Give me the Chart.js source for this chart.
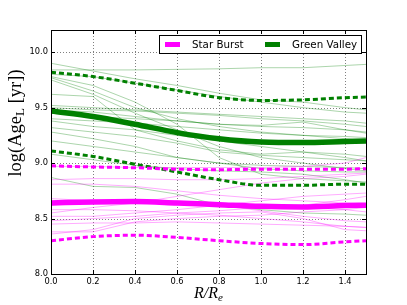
<!DOCTYPE html>
<html><head><meta charset="utf-8">
<script src="https://cdn.jsdelivr.net/npm/chart.js@4/dist/chart.umd.min.js"></script>
<style>html,body{margin:0;padding:0;background:#fff}#wrap{width:407px;height:305px;position:relative}</style>
</head><body><div id="wrap"><canvas id="c" width="407" height="305"></canvas></div>
<script>
// radius R/Re sample points
const radius = [0, 0.2, 0.4, 0.6, 0.8, 1.0, 1.2, 1.4, 1.5];
const xTicks = [0.0, 0.2, 0.4, 0.6, 0.8, 1.0, 1.2, 1.4];
const yTicks = [8.0, 8.5, 9.0, 9.5, 10.0];

// Green Valley: median and 16/84 percentiles
const gvMedian = [9.47, 9.42, 9.35, 9.275, 9.22, 9.19, 9.185, 9.195, 9.20];
const gvUpper  = [9.82, 9.78, 9.72, 9.655, 9.59, 9.565, 9.57, 9.59, 9.595];
const gvLower  = [9.11, 9.06, 8.99, 8.92, 8.85, 8.80, 8.80, 8.81, 8.81];
// Star Burst: median and percentiles
const sbMedian = [8.64, 8.65, 8.653, 8.64, 8.625, 8.61, 8.605, 8.617, 8.62];
const sbUpper  = [8.975, 8.965, 8.958, 8.945, 8.94, 8.945, 8.945, 8.945, 8.95];
const sbLower  = [8.30, 8.337, 8.35, 8.33, 8.30, 8.275, 8.265, 8.29, 8.30];

// individual Green Valley galaxies
const gv01 = [9.90, 9.83, 9.76, 9.70, 9.63, 9.57, 9.55, 9.50, 9.48];
const gv02 = [9.84, 9.84, 9.84, 9.845, 9.85, 9.86, 9.86, 9.88, 9.89];
const gv03 = [9.80, 9.78, 9.72, 9.66, 9.60, 9.55, 9.50, 9.46, 9.45];
const gv04 = [9.78, 9.70, 9.55, 9.35, 9.05, 8.90, 8.86, 8.84, 8.83];
const gv05 = [9.77, 9.65, 9.50, 9.40, 9.33, 9.28, 9.25, 9.22, 9.20];
const gv06 = [9.75, 9.62, 9.45, 9.30, 9.15, 9.05, 9.00, 8.95, 8.93];
const gv07 = [9.52, 9.50, 9.48, 9.46, 9.44, 9.42, 9.40, 9.38, 9.36];
const gv08 = [9.50, 9.48, 9.47, 9.45, 9.43, 9.40, 9.38, 9.35, 9.33];
const gv09 = [9.45, 9.42, 9.40, 9.38, 9.35, 9.33, 9.32, 9.30, 9.28];
const gv10 = [9.40, 9.38, 9.36, 9.33, 9.30, 9.27, 9.25, 9.24, 9.23];
const gv11 = [9.38, 9.33, 9.30, 9.25, 9.20, 9.15, 9.10, 9.05, 9.02];
const gv12 = [9.32, 9.28, 9.24, 9.18, 9.10, 9.07, 9.05, 9.03, 9.02];
const gv13 = [9.28, 9.22, 9.15, 9.05, 9.00, 8.98, 8.97, 8.96, 8.95];
const gv14 = [9.20, 9.15, 9.10, 9.05, 9.00, 8.95, 8.93, 8.92, 8.92];
const gv15 = [8.87, 8.79, 8.78, 8.72, 8.62, 8.58, 8.55, 8.54, 8.53];
const gv16 = [9.08, 9.03, 8.98, 8.95, 8.93, 8.92, 8.90, 8.85, 8.82];
const gv17 = [9.48, 9.46, 9.42, 9.38, 9.35, 9.34, 9.37, 9.30, 9.27];
const gv18 = [9.62, 9.60, 9.30, 9.20, 9.12, 9.08, 9.10, 9.08, 9.06];
const greenGalaxies = [gv01, gv02, gv03, gv04, gv05, gv06, gv07, gv08, gv09, gv10, gv11, gv12, gv13, gv14, gv15, gv16, gv17, gv18];

// individual Star Burst galaxies
const sb01 = [8.97, 8.97, 8.96, 8.96, 8.96, 8.96, 8.97, 9.00, 9.05];
const sb02 = [8.85, 8.86, 8.86, 8.85, 8.85, 8.86, 8.88, 8.90, 8.91];
const sb03 = [8.81, 8.81, 8.79, 8.75, 8.71, 8.68, 8.66, 8.64, 8.63];
const sb04 = [8.55, 8.60, 8.64, 8.70, 8.76, 8.82, 8.86, 8.88, 8.90];
const sb05 = [8.62, 8.66, 8.67, 8.66, 8.62, 8.57, 8.52, 8.48, 8.47];
const sb06 = [8.52, 8.52, 8.55, 8.58, 8.62, 8.66, 8.70, 8.72, 8.73];
const sb07 = [8.48, 8.50, 8.52, 8.55, 8.57, 8.60, 8.62, 8.67, 8.70];
const sb08 = [8.38, 8.38, 8.47, 8.50, 8.52, 8.53, 8.56, 8.58, 8.60];
const sb09 = [8.36, 8.40, 8.50, 8.53, 8.55, 8.56, 8.50, 8.40, 8.39];
const sb10 = [8.45, 8.46, 8.46, 8.47, 8.46, 8.45, 8.44, 8.43, 8.42];
const sb11 = [8.58, 8.58, 8.57, 8.55, 8.53, 8.50, 8.47, 8.43, 8.42];
const sb12 = [8.68, 8.66, 8.65, 8.64, 8.63, 8.62, 8.60, 8.58, 8.56];
const starGalaxies = [sb01, sb02, sb03, sb04, sb05, sb06, sb07, sb08, sb09, sb10, sb11, sb12];

const seriesNames = ['Star Burst', 'Green Valley'];
const xTitle = ['R/R', 'e'];
const yTitle = ['log(Age', 'L', ' [yr])'];

const MAG = '#ff00ff', GRN = '#008000';
const pts = arr => arr.map((v, i) => ({x: radius[i], y: v}));

const datasets = [];
const thick = (data, color, w, dash, label) => ({
  label: label || '', data: pts(data), borderColor: color, borderWidth: w,
  borderDash: dash || [], pointRadius: 0, fill: false, order: 0,
  cubicInterpolationMode: 'monotone', borderCapStyle: 'butt'
});
datasets.push(thick(sbMedian, MAG, 5.5, null, seriesNames[0]));
datasets.push(thick(gvMedian, GRN, 5.5, null, seriesNames[1]));
datasets.push(thick(sbUpper, MAG, 3, [5, 3]));
datasets.push(thick(sbLower, MAG, 3, [5, 3]));
datasets.push(thick(gvUpper, GRN, 3, [5, 3]));
datasets.push(thick(gvLower, GRN, 3, [5, 3]));
starGalaxies.forEach(a => datasets.push({data: pts(a), borderColor: 'rgba(255,0,255,0.33)', borderWidth: 1, pointRadius: 0, tension: 0, order: 1}));
greenGalaxies.forEach(a => datasets.push({data: pts(a), borderColor: 'rgba(0,128,0,0.33)', borderWidth: 1, pointRadius: 0, tension: 0, order: 2}));

const decor = {
  id: 'decor',
  beforeDatasetsDraw(chart) {
    const {ctx, chartArea: a, scales: {x, y}} = chart;
    ctx.save();
    ctx.strokeStyle = '#808080'; ctx.lineWidth = 1; ctx.setLineDash([1, 2]);
    xTicks.forEach(v => { const px = Math.round(x.getPixelForValue(v)) + 0.5; ctx.beginPath(); ctx.moveTo(px, a.top); ctx.lineTo(px, a.bottom); ctx.stroke(); });
    yTicks.forEach(v => { const py = Math.round(y.getPixelForValue(v)) + 0.5; ctx.beginPath(); ctx.moveTo(a.left, py); ctx.lineTo(a.right, py); ctx.stroke(); });
    ctx.restore();
  },
  afterDraw(chart) {
    const {ctx, chartArea: a, scales: {x, y}} = chart;
    ctx.save();
    // ticks inside
    ctx.strokeStyle = '#000'; ctx.lineWidth = 1; ctx.setLineDash([]);
    xTicks.forEach(v => { const px = Math.round(x.getPixelForValue(v)) + 0.5; ctx.beginPath(); ctx.moveTo(px, a.bottom); ctx.lineTo(px, a.bottom - 4); ctx.moveTo(px, a.top); ctx.lineTo(px, a.top + 4); ctx.stroke(); });
    yTicks.forEach(v => { const py = Math.round(y.getPixelForValue(v)) + 0.5; ctx.beginPath(); ctx.moveTo(a.left, py); ctx.lineTo(a.left + 4, py); ctx.moveTo(a.right, py); ctx.lineTo(a.right - 4, py); ctx.stroke(); });
    // frame
    ctx.strokeRect(Math.round(a.left) + 0.5, Math.round(a.top) + 0.5, Math.round(a.right - a.left), Math.round(a.bottom - a.top));
    // legend
    const lx = 159.5, ly = 35.5, lw = 202, lh = 18;
    ctx.fillStyle = '#fff'; ctx.fillRect(lx, ly, lw, lh); ctx.strokeRect(lx, ly, lw, lh);
    const cy = ly + lh / 2;
    ctx.lineWidth = 5;
    ctx.strokeStyle = MAG; ctx.beginPath(); ctx.moveTo(165, cy); ctx.lineTo(180, cy); ctx.stroke();
    ctx.strokeStyle = GRN; ctx.beginPath(); ctx.moveTo(265, cy); ctx.lineTo(280, cy); ctx.stroke();
    ctx.fillStyle = '#000'; ctx.font = '10.3px "DejaVu Sans"'; ctx.textBaseline = 'middle'; ctx.textAlign = 'left';
    ctx.fillText(seriesNames[0], 192, cy + 0.5);
    ctx.fillText(seriesNames[1], 292, cy + 0.5);
    // x title
    ctx.font = 'italic 16px "Liberation Serif"'; ctx.textBaseline = 'alphabetic';
    const w1 = ctx.measureText(xTitle[0]).width;
    ctx.font = 'italic 11px "Liberation Serif"';
    const w2 = ctx.measureText(xTitle[1]).width;
    let sx = (a.left + a.right) / 2 - (w1 + w2) / 2;
    ctx.font = 'italic 16px "Liberation Serif"'; ctx.fillText(xTitle[0], sx, 298);
    ctx.font = 'italic 11px "Liberation Serif"'; ctx.fillText(xTitle[1], sx + w1, 301);
    // y title
    ctx.translate(21, 123); ctx.rotate(-Math.PI / 2);
    const big = '18.5px "Liberation Serif"', small = '13px "Liberation Serif"';
    ctx.font = big; const t1 = ctx.measureText(yTitle[0]).width, t3 = ctx.measureText(yTitle[2]).width;
    ctx.font = small; const t2 = ctx.measureText(yTitle[1]).width;
    let s = -(t1 + t2 + t3) / 2;
    ctx.font = big; ctx.fillText(yTitle[0], s, 0);
    ctx.font = small; ctx.fillText(yTitle[1], s + t1, 3);
    ctx.font = big; ctx.fillText(yTitle[2], s + t1 + t2, 0);
    ctx.restore();
  }
};

new Chart(document.getElementById('c'), {
  type: 'line',
  data: {datasets},
  options: {
    responsive: false, animation: false, devicePixelRatio: 1,
    layout: {padding: {top: 30, right: 41, left: 0, bottom: 0}},
    plugins: {legend: {display: false}, tooltip: {enabled: false}},
    scales: {
      x: {type: 'linear', min: 0, max: 1.5,
          afterFit: s => { s.height = 31; },
          afterBuildTicks: s => { s.ticks = xTicks.map(v => ({value: v})); },
          ticks: {callback: v => v.toFixed(1), font: {family: 'DejaVu Sans', size: 8.3}, color: '#000', padding: 3, maxRotation: 0, autoSkip: false},
          grid: {display: false, drawTicks: false}, border: {display: false}},
      y: {type: 'linear', min: 8.0, max: 10.2,
          afterFit: s => { s.width = 51; },
          afterBuildTicks: s => { s.ticks = yTicks.map(v => ({value: v})); },
          ticks: {callback: v => v.toFixed(1), font: {family: 'DejaVu Sans', size: 8.3}, color: '#000', padding: 3, autoSkip: false},
          grid: {display: false, drawTicks: false}, border: {display: false}}
    }
  },
  plugins: [decor]
});
</script></body></html>
